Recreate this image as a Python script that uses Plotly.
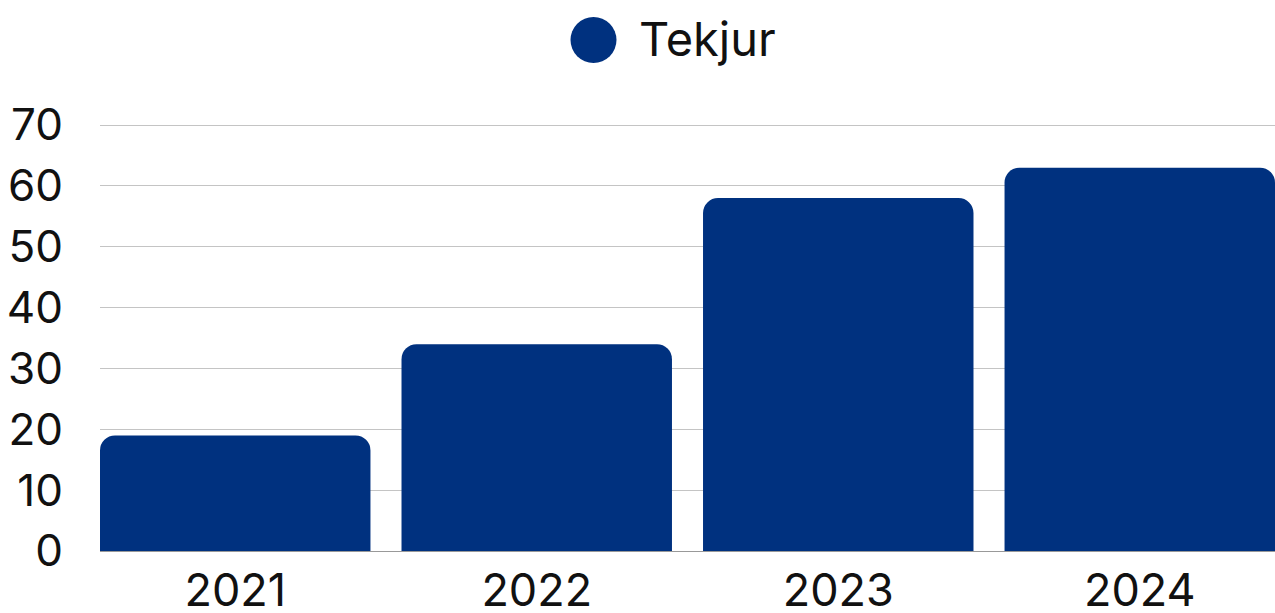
import plotly.graph_objects as go

years = ["2021", "2022", "2023", "2024"]
tekjur = [19, 34, 58, 63]
series_name = "Tekjur"
y_ticks = [0, 10, 20, 30, 40, 50, 60, 70]

bar_color = "#00317F"
font_family = "Inter, Lato, sans-serif"
gap = 0.103

fig = go.Figure()
fig.add_trace(go.Bar(
    x=years, y=tekjur, name=series_name,
    marker=dict(color=bar_color, line=dict(width=0)),
    showlegend=False,
))

fig.update_layout(
    width=1275, height=613,
    margin=dict(l=100, r=0, t=119, b=62),
    paper_bgcolor="white", plot_bgcolor="white",
    bargap=gap,
    barcornerradius=15,
    font=dict(family=font_family, size=44, color="#111111"),
    xaxis=dict(
        showgrid=False, showline=True, linecolor="#999999", linewidth=1,
        range=[-0.5 + gap / 2, len(years) - 0.5 - gap / 2],
        ticks="", ticklabelstandoff=0, automargin=False,
        tickfont=dict(size=45, color="#111111"),
    ),
    yaxis=dict(
        range=[0, 71], tickvals=y_ticks, showgrid=True,
        gridcolor="#c4c4c4", gridwidth=1, zeroline=False, showline=False,
        ticks="", ticklabelstandoff=36, automargin=False,
        tickfont=dict(size=44, color="#111111"),
    ),
    shapes=[dict(
        type="circle", xref="paper", yref="paper",
        xsizemode="pixel", ysizemode="pixel",
        xanchor=0.42, yanchor=1.183,
        x0=-23, x1=23, y0=-23, y1=23,
        fillcolor=bar_color, line=dict(width=0),
    )],
    annotations=[dict(
        text=series_name, xref="paper", yref="paper",
        x=0.457, y=1.187, xanchor="left", yanchor="middle",
        showarrow=False, font=dict(size=47, color="#111111", family=font_family),
    )],
)

fig.write_html(
    "out.html",
    config={"displayModeBar": False},
    post_script="document.body.style.margin='0';document.body.style.overflow='hidden';",
)
